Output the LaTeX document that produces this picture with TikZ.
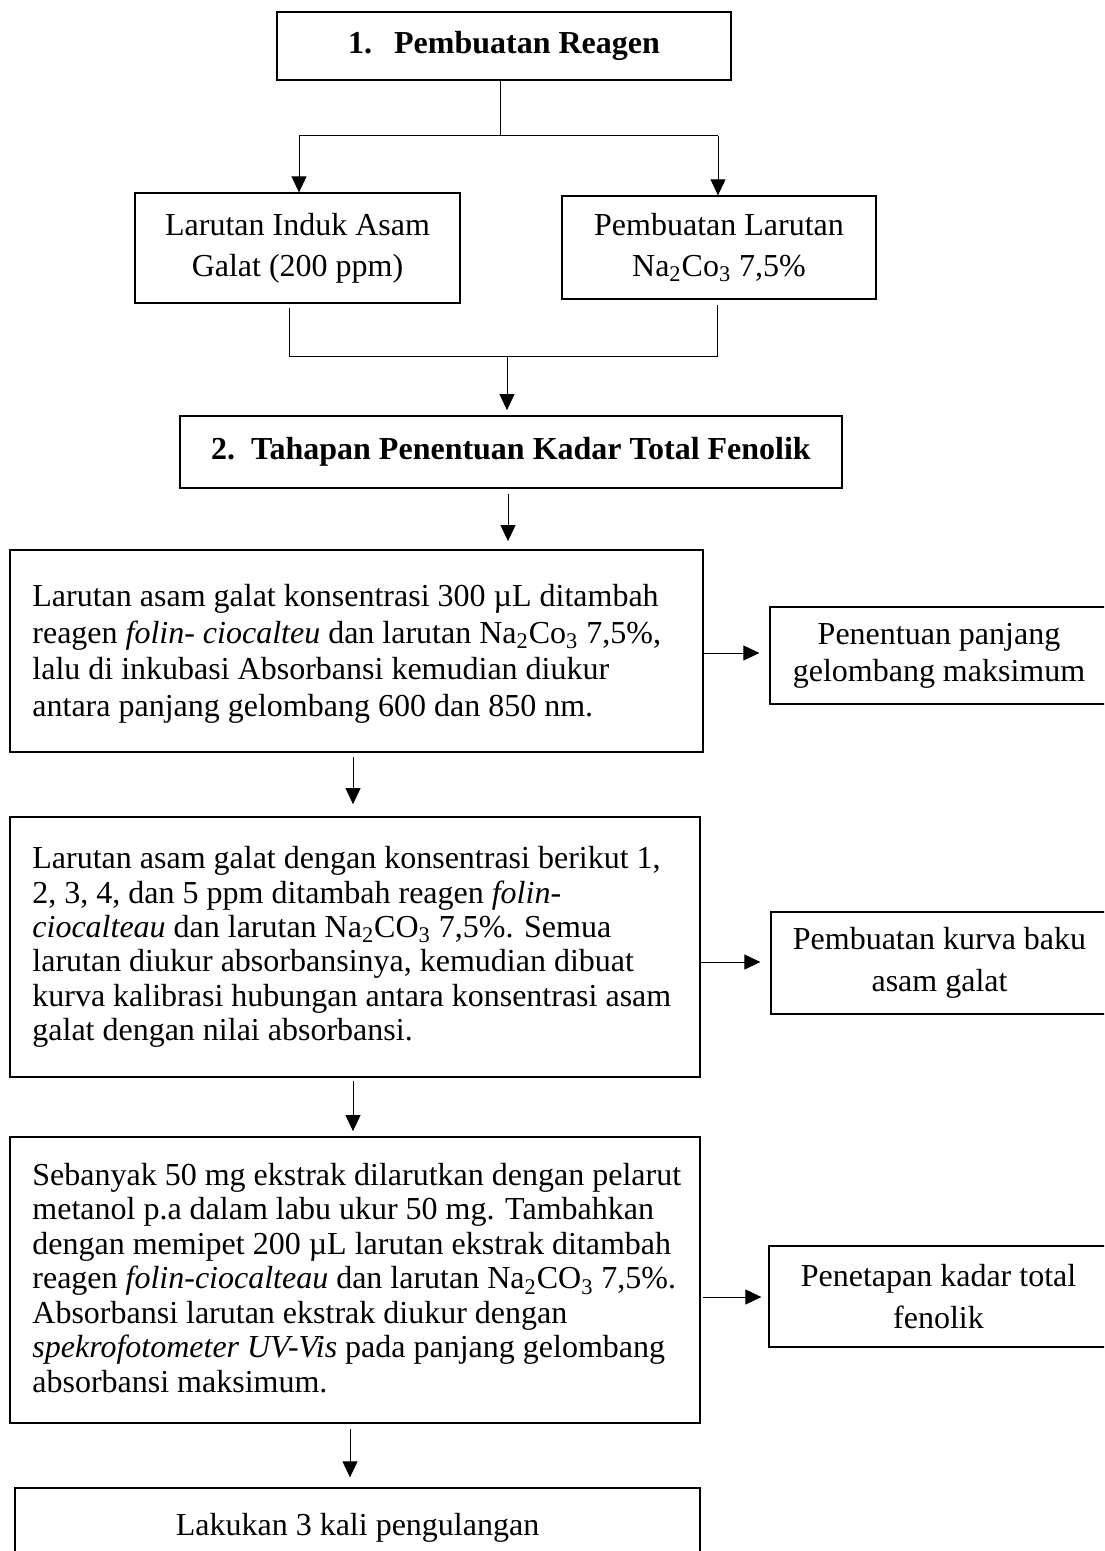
\documentclass[tikz,border=0pt]{standalone}
\usepackage{fontspec}
\setmainfont{Liberation Serif}
\usetikzlibrary{arrows.meta}
\begin{document}
\begin{tikzpicture}[x=0.5pt,y=-0.5pt,
  every node/.style={font=\fontsize{16}{19}\selectfont, inner sep=0pt},
  mainbox/.style={draw, line width=0.9pt},
  sidebox/.style={draw, line width=0.65pt},
  para/.style={anchor=west, align=left},
  conn/.style={line width=0.5pt},
  arr/.style={conn, -{Triangle[length=8pt,width=7.5pt]}}]
\clip (0,0) rectangle (1104,1551);

% stage 1: reagents
\node[mainbox, minimum width=227pt, minimum height=34pt] (b1) at (504,46)
  {\bfseries 1.\hspace{11pt}Pembuatan Reagen};
\node[sidebox, minimum width=162.5pt, minimum height=55pt, align=center,
  font=\fontsize{16}{20.5}\selectfont] (bL) at (297.5,248)
  {Larutan Induk Asam\\Galat (200 ppm)};
\node[sidebox, minimum width=157pt, minimum height=51.5pt, align=center,
  font=\fontsize{16}{20.5}\selectfont] (bR) at (719,247.5)
  {Pembuatan Larutan\\Na\textsubscript{2}Co\textsubscript{3} 7,5\%};

% stage 2: total phenolic content
\node[mainbox, minimum width=331pt, minimum height=36pt] (b2) at (511,452)
  {\bfseries 2.\hspace{8pt}Tahapan Penentuan Kadar Total Fenolik};

\node[mainbox, minimum width=346.5pt, minimum height=101pt] (b3) at (356.5,651) {};
\node[para, font=\fontsize{16}{18.3}\selectfont] (t3) at (32,654)
  {Larutan asam galat konsentrasi 300 µL ditambah\\
   reagen \textit{folin- ciocalteu} dan larutan Na\textsubscript{2}Co\textsubscript{3} 7,5\%,\\
   lalu di inkubasi Absorbansi kemudian diukur\\
   antara panjang gelombang 600 dan 850 nm.};
\node[sidebox, minimum width=169pt, minimum height=48.5pt, align=center,
  font=\fontsize{16}{18.5}\selectfont] (r1) at (939,655.5)
  {Penentuan panjang\\gelombang maksimum};

\node[mainbox, minimum width=345pt, minimum height=130pt] (b4) at (355,947) {};
\node[para, font=\fontsize{16}{17.2}\selectfont] (t4) at (32,947)
  {Larutan asam galat dengan konsentrasi berikut 1,\\
   2, 3, 4, dan 5 ppm ditambah reagen \textit{folin-}\\
   \textit{ciocalteau} dan larutan Na\textsubscript{2}CO\textsubscript{3} 7,5\%. Semua\\
   larutan diukur absorbansinya, kemudian dibuat\\
   kurva kalibrasi hubungan antara konsentrasi asam\\
   galat dengan nilai absorbansi.};
\node[sidebox, minimum width=168.5pt, minimum height=51pt, align=center,
  font=\fontsize{16}{21}\selectfont] (r2) at (939.5,963)
  {Pembuatan kurva baku\\asam galat};

\node[mainbox, minimum width=345pt, minimum height=143pt] (b5) at (355,1280) {};
\node[para, font=\fontsize{16}{17.25}\selectfont] (t5) at (32,1278)
  {Sebanyak 50 mg ekstrak dilarutkan dengan pelarut\\
   metanol p.a dalam labu ukur 50 mg. Tambahkan\\
   dengan memipet 200 µL larutan ekstrak ditambah\\
   reagen \textit{folin-ciocalteau} dan larutan Na\textsubscript{2}CO\textsubscript{3} 7,5\%.\\
   Absorbansi larutan ekstrak diukur dengan\\
   \textit{spekrofotometer UV-Vis} pada panjang gelombang\\
   absorbansi maksimum.};
\node[sidebox, minimum width=169.5pt, minimum height=50.5pt, align=center,
  font=\fontsize{16}{21}\selectfont] (r3) at (938.5,1296.5)
  {Penetapan kadar total\\fenolik};

\node[sidebox, minimum width=342.5pt, minimum height=40pt] (b6) at (357.5,1528)
  {Lakukan 3 kali pengulangan};

% branching from stage 1
\coordinate (j1) at (500,136);
\coordinate (jl) at (299,136);
\coordinate (jr) at (718,136);
\draw[conn] (b1.south -| j1) -- (j1);
\draw[conn] (jl) -- (jr);
\draw[arr] (jl) -- (bL.north -| jl);
\draw[arr] (jr) -- (bR.north -| jr);

% joining into stage 2
\coordinate (ml) at (289,357);
\coordinate (mr) at (717,357);
\coordinate (m2) at (507,357);
\draw[conn] ([yshift=-2pt]bL.south -| ml) -- (ml) -- (mr) -- ([yshift=-2.5pt]bR.south -| mr);
\draw[arr, shorten >=2.5pt] (m2) -- (b2.north -| m2);

% main sequence
\coordinate (a2) at (508,0);
\coordinate (a3) at (353,0);
\coordinate (a5) at (350,0);
\draw[arr, shorten <=2.5pt, shorten >=4pt] (b2.south -| a2) -- (b3.north -| a2);
\draw[arr, shorten <=2pt, shorten >=6pt] (b3.south -| a3) -- (b4.north -| a3);
\draw[arr, shorten <=1.5pt, shorten >=2.5pt] (b4.south -| a3) -- (b5.north -| a3);
\draw[arr, shorten <=2.5pt, shorten >=5pt] (b5.south -| a5) -- (b6.north -| a5);

% side results
\coordinate (h1) at (0,653);
\coordinate (h2) at (0,962);
\coordinate (h3) at (0,1297);
\draw[arr, shorten >=5pt] (b3.east |- h1) -- (r1.west |- h1);
\draw[arr, shorten >=5pt] (b4.east |- h2) -- (r2.west |- h2);
\draw[arr, shorten <=1pt, shorten >=3.5pt] (b5.east |- h3) -- (r3.west |- h3);
\end{tikzpicture}
\end{document}
